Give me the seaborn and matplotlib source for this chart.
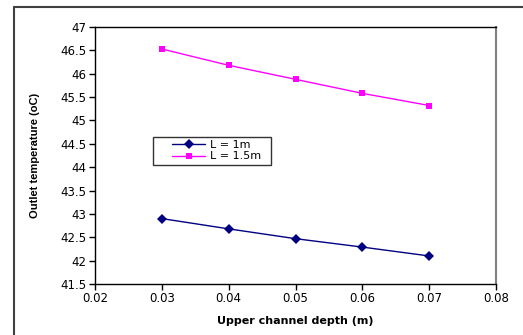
import matplotlib
matplotlib.use("Agg")
import matplotlib.pyplot as plt
import seaborn as sns
import pandas as pd
from matplotlib.legend_handler import HandlerLine2D
from matplotlib.lines import Line2D

depth = [0.03, 0.04, 0.05, 0.06, 0.07]
temp_L1 = [42.90, 42.68, 42.47, 42.29, 42.10]
temp_L15 = [46.53, 46.18, 45.88, 45.58, 45.32]
series_names = ["L = 1m", "L = 1.5m"]
xticks = [0.02, 0.03, 0.04, 0.05, 0.06, 0.07, 0.08]
yticks = [41.5, 42, 42.5, 43, 43.5, 44, 44.5, 45, 45.5, 46, 46.5, 47]

df = pd.DataFrame({
    "depth": depth * 2,
    "temp": temp_L1 + temp_L15,
    "series": [series_names[0]] * 5 + [series_names[1]] * 5,
})

sns.set_style("white")
plt.rcParams['font.family'] = ['DejaVu Sans']
plt.rcParams['text.color'] = 'black'
plt.rcParams['axes.labelcolor'] = 'black'
plt.rcParams['xtick.color'] = 'black'
plt.rcParams['ytick.color'] = 'black'

fig = plt.figure(figsize=(5.23, 3.35), dpi=100)
ax = fig.add_axes([95/523, 1 - 284/335, (496-95)/523, (284-27)/335])

palette = {series_names[0]: "#000080", series_names[1]: "#FF00FF"}
sns.lineplot(data=df, x="depth", y="temp", hue="series", style="series",
             markers={series_names[0]: "D", series_names[1]: "s"}, dashes=False,
             palette=palette, ax=ax, linewidth=1, markersize=5,
             markeredgewidth=0)

ax.set_xlim(0.02, 0.08)
ax.set_ylim(41.5, 47)
ax.set_xticks(xticks)
ax.set_xticklabels([f"{v:g}" for v in xticks])
ax.set_yticks(yticks)
ax.set_yticklabels([f"{v:g}" for v in yticks])
ax.tick_params(axis="both", labelsize=8.5, direction="out", length=4, width=1,
               left=True, bottom=True, pad=2, colors="black")
for s in ["left", "bottom", "top"]:
    ax.spines[s].set_color("black")
    ax.spines[s].set_linewidth(1)
ax.spines["right"].set_color("#808080")
ax.spines["right"].set_linewidth(1.5)

ax.set_xlabel("Upper channel depth (m)", fontsize=8, fontweight="bold", labelpad=8,
              color="black")
ax.set_ylabel("Outlet temperature (oC)", fontsize=8, fontweight="bold", labelpad=15,
              family=["Liberation Sans", "DejaVu Sans"], color="black")

handles, labels = ax.get_legend_handles_labels()
leg = ax.legend(handles, labels, loc="upper left",
                bbox_to_anchor=((153-95)/(496-95), 1 - (137-27)/(284-27)),
                fontsize=8, frameon=True, fancybox=False, edgecolor="black",
                borderpad=0.3, labelspacing=0.1, handlelength=4.4, handletextpad=0.4,
                borderaxespad=0,
                handler_map={Line2D: HandlerLine2D(xpad=1.4)})
leg.get_frame().set_linewidth(1)
for t in leg.get_texts():
    t.set_color("black")
    t.set_text(t.get_text() + "  ")

# outer chart frame
fig.add_artist(plt.Line2D([14/523, 14/523], [0, 1 - 7/335], color="#404040", lw=1.5,
                          transform=fig.transFigure))
fig.add_artist(plt.Line2D([14/523, 1], [1 - 7/335, 1 - 7/335], color="#404040", lw=1.5,
                          transform=fig.transFigure))

fig.savefig("out.png", dpi=100)
